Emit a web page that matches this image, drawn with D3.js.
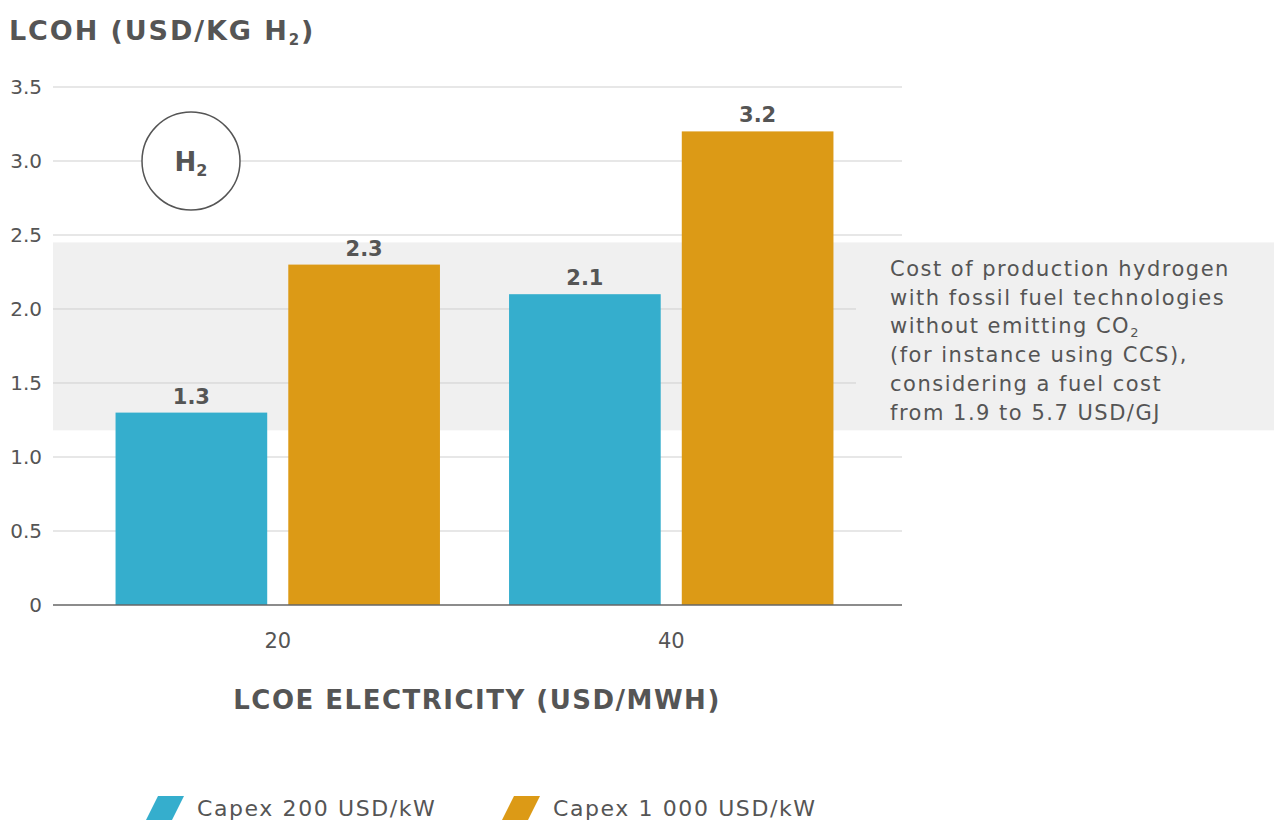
<!DOCTYPE html>
<html>
<head>
<meta charset="utf-8">
<script src="https://cdn.jsdelivr.net/npm/d3@7"></script>
<style>
  body { margin: 0; background: #fff; }
  text { font-family: "DejaVu Sans", sans-serif; fill: #555; }
  .bold { font-weight: bold; }
</style>
</head>
<body>
<div id="chart"></div>
<script>
// data
var categories = ["20", "40"];
var seriesNames = ["Capex 200 USD/kW", "Capex 1 000 USD/kW"];
var seriesColors = ["#35aecd", "#dc9a16"];
var capex200 = [1.3, 2.1];
var capex1000 = [2.3, 3.2];
var yTicks = [0, 0.5, 1.0, 1.5, 2.0, 2.5, 3.0, 3.5];
var fossilRange = [1.18, 2.45];
var noteLines = ["Cost of production hydrogen", "with fossil fuel technologies", "without emitting CO|2", "(for instance using CCS),", "considering a fuel cost", "from 1.9 to 5.7 USD/GJ"];

var width = 1274, height = 823;
var left = 53, right = 902, bandRight = 856;

var svg = d3.select("#chart").append("svg")
    .attr("width", width)
    .attr("height", height);

var y = d3.scaleLinear().domain([0, 3.5]).range([605, 87]);

var x0 = d3.scaleBand().domain(categories).range([81, 868]).paddingInner(0).paddingOuter(0);
var x1 = d3.scaleBand().domain([0, 1]).range([0, x0.bandwidth()]).paddingInner(0.122).paddingOuter(0.2);

// grey band for fossil range (left part sits under the gridlines)
svg.append("rect")
    .attr("x", left).attr("y", y(fossilRange[1]))
    .attr("width", bandRight - left).attr("height", y(fossilRange[0]) - y(fossilRange[1]))
    .attr("fill", "#f0f0f0");

// gridlines + y labels
svg.selectAll(".grid").data(yTicks.filter(d => d > 0)).enter()
    .append("line")
    .attr("x1", left).attr("x2", right)
    .attr("y1", d => y(d)).attr("y2", d => y(d))
    .attr("stroke", "#cfcfcf").attr("stroke-width", 1);

svg.selectAll(".ylab").data(yTicks).enter()
    .append("text")
    .attr("x", 42).attr("y", d => y(d) + 7)
    .attr("text-anchor", "end")
    .style("font-size", "20px")
    .text(d => d === 0 ? "0" : d.toFixed(1));

// right part of band covers the gridlines
svg.append("rect")
    .attr("x", bandRight).attr("y", y(fossilRange[1]))
    .attr("width", width - bandRight).attr("height", y(fossilRange[0]) - y(fossilRange[1]))
    .attr("fill", "#f0f0f0");

noteLines.forEach((l, i) => {
    var parts = l.split("|");
    var t = svg.append("text")
        .attr("x", 890).attr("y", 276 + i * 28.7)
        .style("font-size", "21px")
        .style("letter-spacing", "1.5px");
    t.append("tspan").text(parts[0]);
    if (parts[1]) {
        t.append("tspan").attr("dy", 4).style("font-size", "13px").text(parts[1]);
    }
});

// H2 badge
var badge = svg.append("g").attr("transform", "translate(191,161)");
badge.append("circle").attr("r", 49).attr("fill", "#fff").attr("stroke", "#555").attr("stroke-width", 1.5);
var bt = badge.append("text").attr("class", "bold").attr("text-anchor", "middle").attr("y", 10).style("font-size", "26px");
bt.append("tspan").text("H");
bt.append("tspan").attr("dy", 5).style("font-size", "16px").text("2");

// bars
var rows = categories.map((c, i) => ({cat: c, vals: [capex200[i], capex1000[i]]}));
var groups = svg.selectAll(".grp").data(rows).enter()
    .append("g")
    .attr("transform", d => "translate(" + x0(d.cat) + ",0)");

groups.selectAll("rect").data(d => d.vals).enter()
    .append("rect")
    .attr("x", (d, i) => x1(i))
    .attr("width", x1.bandwidth())
    .attr("y", d => y(d))
    .attr("height", d => y(0) - y(d))
    .attr("fill", (d, i) => seriesColors[i]);

groups.selectAll(".val").data(d => d.vals).enter()
    .append("text")
    .attr("class", "bold")
    .attr("x", (d, i) => x1(i) + x1.bandwidth() / 2)
    .attr("y", d => y(d) - 9)
    .attr("text-anchor", "middle")
    .style("font-size", "21px")
    .text(d => d.toFixed(1));

// baseline
svg.append("line")
    .attr("x1", left).attr("x2", right)
    .attr("y1", y(0)).attr("y2", y(0))
    .attr("stroke", "#666").attr("stroke-width", 1.5);

// x labels
svg.selectAll(".xlab").data(categories).enter()
    .append("text")
    .attr("x", d => x0(d) + x0.bandwidth() / 2)
    .attr("y", 648)
    .attr("text-anchor", "middle")
    .style("font-size", "21px")
    .text(d => d);

// titles
var title = svg.append("text").attr("class", "bold").attr("x", 9).attr("y", 40)
    .style("font-size", "27px").style("letter-spacing", "1.9px");
title.append("tspan").text("LCOH (USD/KG H");
title.append("tspan").attr("dy", 5).style("font-size", "15px").text("2");
title.append("tspan").attr("dy", -5).text(")");

svg.append("text").attr("class", "bold")
    .attr("x", 477).attr("y", 709)
    .attr("text-anchor", "middle")
    .style("font-size", "26px")
    .style("letter-spacing", "1.5px")
    .text("LCOE ELECTRICITY (USD/MWH)");

// legend
var legendX = [146, 502];
var leg = svg.selectAll(".leg").data(seriesNames).enter()
    .append("g")
    .attr("transform", (d, i) => "translate(" + legendX[i] + ",796)");
leg.append("path")
    .attr("d", "M12,0 L38,0 L26,24 L0,24 Z")
    .attr("fill", (d, i) => seriesColors[i]);
leg.append("text")
    .attr("x", 51).attr("y", 20)
    .style("font-size", "22px")
    .style("letter-spacing", "1.6px")
    .text(d => d);
</script>
</body>
</html>
